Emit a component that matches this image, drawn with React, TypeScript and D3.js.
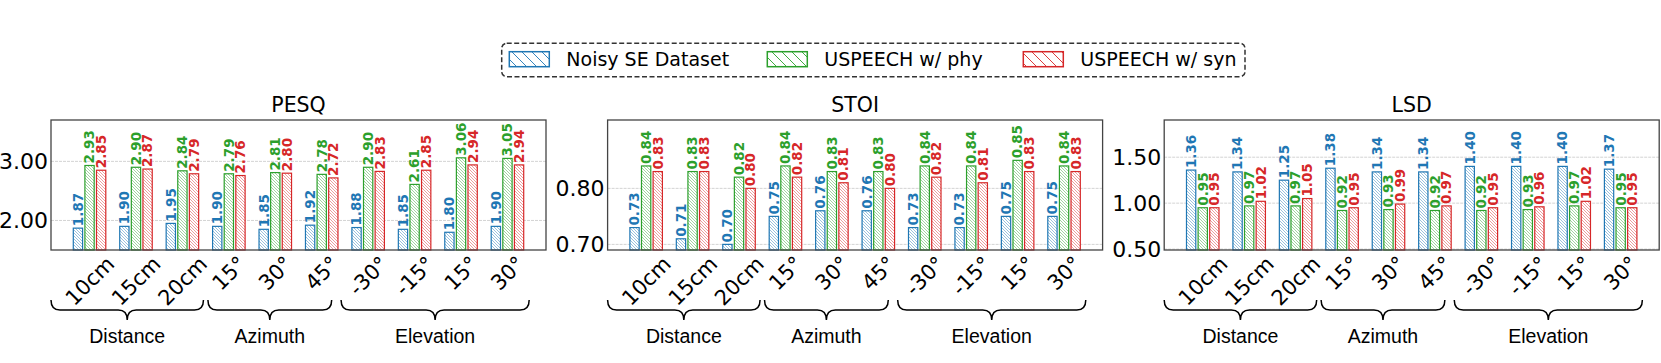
import React, { useEffect, useRef } from "react";
import * as d3 from "d3";

const categories = ["10cm", "15cm", "20cm", "15°", "30°", "45°", "-30°", "-15°", "15°", "30°"];
const groupNames = ["Distance", "Azimuth", "Elevation"];
const groupSpans = [[0, 0.308], [0.317, 0.567], [0.586, 0.966]];

const seriesNames = ["Noisy SE Dataset", "USPEECH w/ phy", "USPEECH w/ syn"];
const seriesColors = ["#1f77b4", "#2ca02c", "#d62728"];

const pesqNoisy = [1.87, 1.9, 1.95, 1.9, 1.85, 1.92, 1.88, 1.85, 1.8, 1.9];
const pesqPhy = [2.93, 2.9, 2.84, 2.79, 2.81, 2.78, 2.9, 2.61, 3.06, 3.05];
const pesqSyn = [2.85, 2.87, 2.79, 2.76, 2.8, 2.72, 2.83, 2.85, 2.94, 2.94];

const stoiNoisy = [0.73, 0.71, 0.7, 0.75, 0.76, 0.76, 0.73, 0.73, 0.75, 0.75];
const stoiPhy = [0.84, 0.83, 0.82, 0.84, 0.83, 0.83, 0.84, 0.84, 0.85, 0.84];
const stoiSyn = [0.83, 0.83, 0.8, 0.82, 0.81, 0.8, 0.82, 0.81, 0.83, 0.83];

const lsdNoisy = [1.36, 1.34, 1.25, 1.38, 1.34, 1.34, 1.4, 1.4, 1.4, 1.37];
const lsdPhy = [0.95, 0.97, 0.97, 0.92, 0.93, 0.92, 0.92, 0.93, 0.97, 0.95];
const lsdSyn = [0.95, 1.02, 1.05, 0.95, 0.99, 0.97, 0.95, 0.96, 1.02, 0.95];

const titles = ["PESQ", "STOI", "LSD"];
const yLimits = [[1.5, 3.7], [0.69, 0.922], [0.49, 1.905]];
const yTicks = [[2.0, 3.0], [0.7, 0.8], [0.5, 1.0, 1.5]];

const panels = [
  [pesqNoisy, pesqPhy, pesqSyn],
  [stoiNoisy, stoiPhy, stoiSyn],
  [lsdNoisy, lsdPhy, lsdSyn],
];

const W = 1661;
const H = 363;

export default function App() {
  const ref = useRef<SVGSVGElement>(null);

  useEffect(() => {
    const svg = d3.select(ref.current);
    svg.selectAll("*").remove();

    const defs = svg.append("defs");
    seriesColors.forEach((c, i) => {
      // dense hatch for the bars
      const p = defs.append("pattern")
        .attr("id", `hatch${i}`)
        .attr("patternUnits", "userSpaceOnUse")
        .attr("width", 3)
        .attr("height", 3);
      p.append("rect").attr("width", 3).attr("height", 3).attr("fill", "white");
      p.append("path")
        .attr("d", "M0,0 L3,3 M-1,2 L1,4 M2,-1 L4,1")
        .attr("stroke", c)
        .attr("stroke-width", 0.6)
        .attr("stroke-opacity", 0.75);

      // sparse hatch for the legend patches
      const q = defs.append("pattern")
        .attr("id", `lhatch${i}`)
        .attr("patternUnits", "userSpaceOnUse")
        .attr("width", 10)
        .attr("height", 10);
      q.append("rect").attr("width", 10).attr("height", 10).attr("fill", "white");
      q.append("path")
        .attr("d", "M0,0 L10,10 M-5,5 L5,15 M5,-5 L15,5")
        .attr("stroke", c)
        .attr("stroke-width", 0.9);
    });

    const top = 120;
    const bottom = 250;
    const pw = 495;
    const pitch = 556.6;

    panels.forEach((series, pi) => {
      const left = 51 + pi * pitch;
      const x = d3.scaleLinear().domain([-0.83, 9.83]).range([left, left + pw]);
      const y = d3.scaleLinear().domain(yLimits[pi]).range([bottom, top]);
      const g = svg.append("g");

      // grid
      g.selectAll(".grid")
        .data(yTicks[pi])
        .enter()
        .append("line")
        .attr("x1", left)
        .attr("x2", left + pw)
        .attr("y1", (d) => y(d))
        .attr("y2", (d) => y(d))
        .attr("stroke", "#c8c8c8")
        .attr("stroke-width", 0.8)
        .attr("stroke-dasharray", "3,1");

      const bw = x(0.2) - x(0);
      series.forEach((vals, si) => {
        const off = (si - 1) * 0.25;
        g.selectAll(`.bar${si}`)
          .data(vals)
          .enter()
          .append("rect")
          .attr("x", (d, i) => x(i + off) - bw / 2)
          .attr("y", (d) => y(d))
          .attr("width", bw)
          .attr("height", (d) => bottom - y(d))
          .attr("fill", `url(#hatch${si})`)
          .attr("stroke", seriesColors[si])
          .attr("stroke-width", 1.2);

        g.selectAll(`.lab${si}`)
          .data(vals)
          .enter()
          .append("text")
          .attr("transform", (d, i) => `translate(${x(i + off)},${y(d) - 2}) rotate(-90)`)
          .attr("dy", "0.36em")
          .attr("text-anchor", "start")
          .attr("font-family", "DejaVu Sans")
          .attr("font-weight", "bold")
          .attr("font-size", 13.5)
          .attr("fill", seriesColors[si])
          .text((d) => d.toFixed(2));
      });

      // frame
      g.append("rect")
        .attr("x", left)
        .attr("y", top)
        .attr("width", pw)
        .attr("height", bottom - top)
        .attr("fill", "none")
        .attr("stroke", "#444")
        .attr("stroke-width", 1.3);

      // y axis
      const yAxis = d3.axisLeft(y)
        .tickValues(yTicks[pi])
        .tickFormat(d3.format(".2f"))
        .tickSize(0)
        .tickPadding(3);
      const ya = g.append("g").attr("transform", `translate(${left},0)`).call(yAxis);
      ya.select(".domain").remove();
      ya.selectAll("text")
        .attr("font-family", "DejaVu Sans")
        .attr("font-size", 22)
        .attr("fill", "#000");

      // title
      g.append("text")
        .attr("x", left + pw / 2)
        .attr("y", 111.5)
        .attr("text-anchor", "middle")
        .attr("font-family", "DejaVu Sans")
        .attr("font-size", 20.5)
        .text(titles[pi]);

      // rotated category labels
      const fs = 21;
      categories.forEach((c, i) => {
        const t = g.append("text")
          .attr("text-anchor", "middle")
          .attr("dy", "0.36em")
          .attr("font-family", "DejaVu Sans")
          .attr("font-size", fs)
          .text(c);
        const node = t.node() as SVGTextElement;
        const L = node.getComputedTextLength();
        const cy = 254.5 + (L / 2 + 0.36 * fs) * Math.SQRT1_2;
        t.attr("transform", `translate(${x(i)},${cy}) rotate(-45)`);
      });

      // braces with group names
      groupSpans.forEach((s, gi) => {
        const x0 = left + s[0] * pw;
        const x1 = left + s[1] * pw;
        const xm = (x0 + x1) / 2;
        const y0 = 300;
        const y1 = 310;
        const y2 = 320;
        const r = 9;
        g.append("path")
          .attr("d", `M${x0},${y0} Q${x0},${y1} ${x0 + r},${y1} L${xm - r},${y1} Q${xm},${y1} ${xm},${y2} Q${xm},${y1} ${xm + r},${y1} L${x1 - r},${y1} Q${x1},${y1} ${x1},${y0}`)
          .attr("fill", "none")
          .attr("stroke", "#000")
          .attr("stroke-width", 1.5);
        g.append("text")
          .attr("x", xm)
          .attr("y", 343)
          .attr("text-anchor", "middle")
          .attr("font-family", "Liberation Sans")
          .attr("font-size", 19.5)
          .text(groupNames[gi]);
      });
    });

    // legend
    const lg = svg.append("g");
    lg.append("rect")
      .attr("x", 501.7)
      .attr("y", 43.3)
      .attr("width", 1245 - 501.7)
      .attr("height", 76.7 - 43.3)
      .attr("rx", 5)
      .attr("fill", "white")
      .attr("stroke", "#333")
      .attr("stroke-width", 1.5)
      .attr("stroke-dasharray", "5,2.5");
    const itemX = [509.3, 767.3, 1023.3];
    seriesNames.forEach((n, i) => {
      lg.append("rect")
        .attr("x", itemX[i])
        .attr("y", 51.7)
        .attr("width", 40)
        .attr("height", 15)
        .attr("fill", `url(#lhatch${i})`)
        .attr("stroke", seriesColors[i])
        .attr("stroke-width", 1.5);
      lg.append("text")
        .attr("x", itemX[i] + 57)
        .attr("y", 59.2)
        .attr("dy", "0.36em")
        .attr("font-family", "DejaVu Sans")
        .attr("font-size", 19)
        .text(n);
    });
  }, []);

  return (
    <svg
      ref={ref}
      width={W}
      height={H}
      style={{ position: "absolute", left: 0, top: 0, background: "white" }}
    />
  );
}
